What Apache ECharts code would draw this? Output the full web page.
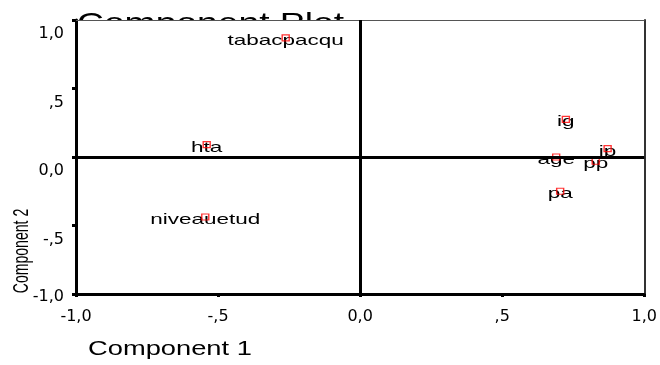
<!DOCTYPE html>
<html>
<head>
<meta charset="utf-8">
<script src="https://cdn.jsdelivr.net/npm/echarts@6.0.0/dist/echarts.min.js"></script>
<style>html,body{margin:0;padding:0;background:#fff;}#c{width:660px;height:365px;}</style>
</head>
<body>
<div id="c"></div>
<script>
// Data
const pointLabels = ['tabacpacqu', 'hta', 'niveauetud', 'ig', 'ip', 'age', 'pp', 'pa'];
const component1 = [-0.262, -0.540, -0.545, 0.724, 0.871, 0.690, 0.829, 0.704];
const component2 = [0.870, 0.091, -0.438, 0.275, 0.061, 0.000, -0.031, -0.250];
const tickValues = [-1, -0.5, 0, 0.5, 1];
const tickLabels = ['-1,0', '-,5', '0,0', ',5', '1,0'];
const titleText = 'Component Plot';
const xName = 'Component 1';
const yName = 'Component 2';

function fmt(v) {
  const i = tickValues.findIndex(t => Math.abs(t - v) < 1e-9);
  return i >= 0 ? tickLabels[i] : '';
}

const pts = component1.map((v, i) => [v, component2[i]]);
const chart = echarts.init(document.getElementById('c'), null, { renderer: 'canvas' });
const lblFont = '"DejaVu Sans", sans-serif';

chart.setOption({
  animation: false,
  backgroundColor: '#fff',
  graphic: [
    { type: 'text', z: -10, x: 77, y: 10, scaleX: 1.33,
      style: { text: titleText, font: '28px "Liberation Sans"', fill: '#000', align: 'left', verticalAlign: 'top' } },
    { type: 'rect', z: -9, shape: { x: 76, y: 20, width: 572, height: 274 }, style: { fill: '#fff' } },
    { type: 'text', x: 88, y: 349, scaleX: 1.3,
      style: { text: xName, font: '21px "Liberation Sans"', fill: '#000', align: 'left', verticalAlign: 'middle' } },
    { type: 'text', x: 22, y: 251, rotation: Math.PI / 2, scaleX: 0.64,
      style: { text: yName, font: '22px "Liberation Sans"', fill: '#000', align: 'center', verticalAlign: 'middle' } }
  ],
  grid: { left: 76, right: 12, top: 20, bottom: 71, show: false },
  xAxis: [
    { type: 'value', min: -1, max: 1, interval: 0.5, position: 'bottom',
      axisLine: { show: true, onZero: false, lineStyle: { color: '#000', width: 3 } },
      axisTick: { show: true, length: 3, lineStyle: { color: '#000', width: 3 } },
      splitLine: { show: false },
      axisLabel: { formatter: fmt, margin: 15, fontFamily: lblFont, fontSize: 16, color: '#000',
        showMinLabel: true, showMaxLabel: true } },
    { type: 'value', min: -1, max: 1, position: 'top',
      axisLine: { show: true, onZero: false, lineStyle: { color: '#555', width: 1 } },
      axisTick: { show: false }, axisLabel: { show: false }, splitLine: { show: false } }
  ],
  yAxis: [
    { type: 'value', min: -1, max: 1, interval: 0.5, position: 'left',
      axisLine: { show: true, onZero: false, lineStyle: { color: '#000', width: 3 } },
      axisTick: { show: true, length: 4, lineStyle: { color: '#000', width: 3 } },
      splitLine: { show: false },
      axisLabel: {
        margin: 12, color: '#000', fontFamily: lblFont, fontSize: 16, verticalAlign: 'middle',
        showMinLabel: true, showMaxLabel: true,
        formatter: v => (Math.abs(v + 1) < 1e-9 ? '{low|' + fmt(v) + '}' : '{n|' + fmt(v) + '}'),
        rich: {
          n: { fontFamily: lblFont, fontSize: 16, color: '#000', padding: [28, 0, 0, 0] },
          low: { fontFamily: lblFont, fontSize: 16, color: '#000', padding: [6, 0, 0, 0] }
        }
      } },
    { type: 'value', min: -1, max: 1, position: 'right',
      axisLine: { show: true, onZero: false, lineStyle: { color: '#333', width: 2 } },
      axisTick: { show: false }, axisLabel: { show: false }, splitLine: { show: false } }
  ],
  series: [
    {
      type: 'custom', z: 2, xAxisIndex: 0, yAxisIndex: 0, data: pts,
      renderItem: (params, api) => {
        const p = api.coord([api.value(0), api.value(1)]);
        return { type: 'text', x: p[0], y: p[1] + 3, scaleX: 1.5,
          style: { text: pointLabels[params.dataIndex], font: '15px "Liberation Sans"', fill: '#000',
            align: 'center', verticalAlign: 'middle' } };
      }
    },
    {
      type: 'scatter', z: 3, xAxisIndex: 0, yAxisIndex: 0, data: pts,
      symbol: 'rect', symbolSize: [7, 6],
      itemStyle: { color: 'rgba(0,0,0,0)', borderColor: '#ff0000', borderWidth: 1.3 },
      markLine: {
        silent: true, symbol: 'none', label: { show: false },
        lineStyle: { color: '#000', width: 3, type: 'solid' },
        data: [{ xAxis: 0 }, { yAxis: 0 }]
      }
    }
  ]
});
</script>
</body>
</html>
